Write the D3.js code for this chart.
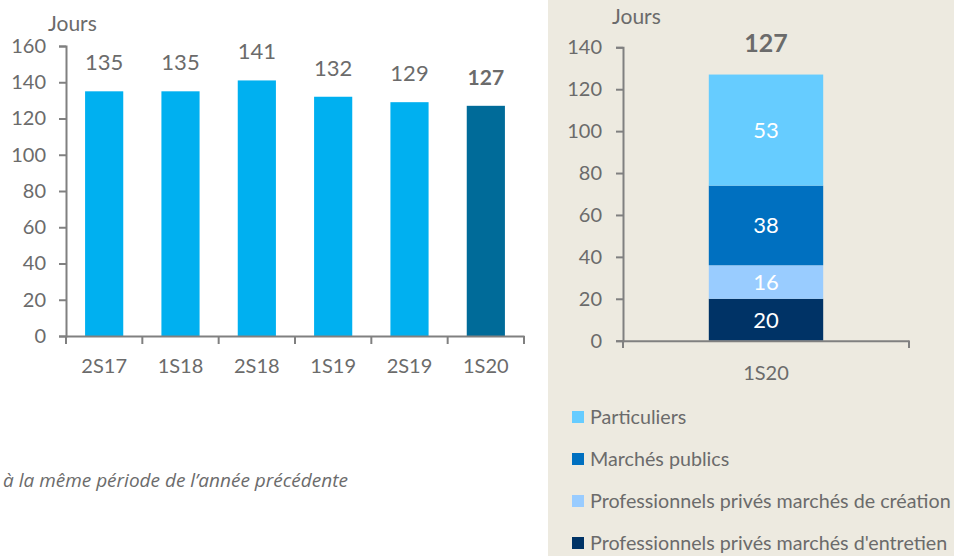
<!DOCTYPE html>
<html>
<head>
<meta charset="utf-8">
<script src="https://cdn.jsdelivr.net/npm/d3@7"></script>
<style>
  body { margin: 0; background: #fff; }
  svg { display: block; font-family: Lato, "Open Sans", sans-serif; }
</style>
</head>
<body>
<script>
var W = 954, H = 556;

// left chart data
var periods = ["2S17", "1S18", "2S18", "1S19", "2S19", "1S20"];
var delays = [135, 135, 141, 132, 129, 127];
var leftTicks = [0, 20, 40, 60, 80, 100, 120, 140, 160];

// right chart data (stacked, bottom to top)
var segments = ["Professionnels privés marchés d'entretien", "Professionnels privés marchés de création", "Marchés publics", "Particuliers"];
var segValues = [20, 16, 38, 53];
var segColors = ["#003366", "#99ccff", "#0070c0", "#66ccff"];
var rightCategory = ["1S20"];
var rightTicks = [0, 20, 40, 60, 80, 100, 120, 140];
var legendOrder = ["Particuliers", "Marchés publics", "Professionnels privés marchés de création", "Professionnels privés marchés d'entretien"];

var textColor = "#6b6b6b", axisColor = "#808080";

var svg = d3.select("body").append("svg")
    .attr("width", W)
    .attr("height", H);

// beige panel on the right
svg.append("rect")
    .attr("x", 548).attr("y", 0)
    .attr("width", W - 548).attr("height", H)
    .attr("fill", "#edeae0");

// ---- left chart ----
var x1 = d3.scaleBand().domain(periods).range([66, 524]).paddingInner(0.5).paddingOuter(0.25);
var y1 = d3.scaleLinear().domain([0, 160]).range([336, 46]);

var gl = svg.append("g");

gl.selectAll("rect.bar")
    .data(delays)
    .enter()
    .append("rect")
    .attr("class", "bar")
    .attr("x", function(d, i) { return x1(periods[i]); })
    .attr("width", x1.bandwidth())
    .attr("y", function(d) { return y1(d); })
    .attr("height", function(d) { return y1(0) - y1(d); })
    .attr("fill", function(d, i) { return i == periods.length - 1 ? "#006b99" : "#00b0f0"; });

gl.selectAll("text.val")
    .data(delays)
    .enter()
    .append("text")
    .attr("class", "val")
    .attr("x", function(d, i) { return x1(periods[i]) + x1.bandwidth() / 2; })
    .attr("y", function(d) { return y1(d) - 21; })
    .attr("text-anchor", "middle")
    .attr("font-size", function(d, i) { return i == periods.length - 1 ? 21 : 22; })
    .attr("font-weight", function(d, i) { return i == periods.length - 1 ? "bold" : "normal"; })
    .attr("fill", textColor)
    .text(function(d) { return d; });

// y axis
var yAxisL = gl.append("g").attr("transform", "translate(66,0)")
    .call(d3.axisLeft(y1).tickValues(leftTicks).tickSize(7).tickPadding(13));
// x axis
var xAxisL = gl.append("g").attr("transform", "translate(0,336)")
    .call(d3.axisBottom(x1).tickSize(0).tickPadding(23));
// category separators
gl.selectAll("line.sep")
    .data(d3.range(periods.length + 1))
    .enter()
    .append("line")
    .attr("class", "sep")
    .attr("x1", function(i) { return 66 + i * (524 - 66) / periods.length; })
    .attr("x2", function(i) { return 66 + i * (524 - 66) / periods.length; })
    .attr("y1", 336).attr("y2", 344)
    .attr("stroke", axisColor).attr("stroke-width", 2);

gl.append("text")
    .attr("x", 48).attr("y", 31)
    .attr("font-size", 21)
    .attr("fill", textColor)
    .text("Jours");

// ---- right chart ----
var x2 = d3.scaleBand().domain(rightCategory).range([623, 909]).paddingInner(0.6).paddingOuter(0.3);
var y2 = d3.scaleLinear().domain([0, 140]).range([340.7, 47.3]);

var stackData = [];
var acc = 0;
segValues.forEach(function(v, i) {
    stackData.push({ name: segments[i], y0: acc, y1: acc + v, v: v, color: segColors[i] });
    acc += v;
});

var gr = svg.append("g");
var bx = x2("1S20"), bw = x2.bandwidth();

gr.selectAll("rect.seg")
    .data(stackData)
    .enter()
    .append("rect")
    .attr("class", "seg")
    .attr("x", bx)
    .attr("width", bw)
    .attr("y", function(d) { return y2(d.y1); })
    .attr("height", function(d) { return y2(d.y0) - y2(d.y1); })
    .attr("fill", function(d) { return d.color; });

gr.selectAll("text.seglab")
    .data(stackData)
    .enter()
    .append("text")
    .attr("class", "seglab")
    .attr("x", bx + bw / 2)
    .attr("y", function(d) { return (y2(d.y0) + y2(d.y1)) / 2 + 8; })
    .attr("text-anchor", "middle")
    .attr("font-size", 22)
    .attr("fill", "#fff")
    .text(function(d) { return d.v; });

gr.append("text")
    .attr("x", bx + bw / 2)
    .attr("y", y2(acc) - 23)
    .attr("text-anchor", "middle")
    .attr("font-size", 25)
    .attr("font-weight", "bold")
    .attr("fill", textColor)
    .text(acc);

var yAxisR = gr.append("g").attr("transform", "translate(623,0)")
    .call(d3.axisLeft(y2).tickValues(rightTicks).tickSize(7).tickPadding(14));
var xAxisR = gr.append("g").attr("transform", "translate(0,340.7)")
    .call(d3.axisBottom(x2).tickSize(0).tickPadding(25));
gr.selectAll("line.sep")
    .data([623, 909])
    .enter()
    .append("line")
    .attr("class", "sep")
    .attr("x1", function(d) { return d; })
    .attr("x2", function(d) { return d; })
    .attr("y1", 340.7).attr("y2", 348)
    .attr("stroke", axisColor).attr("stroke-width", 2);

gr.append("text")
    .attr("x", 612).attr("y", 24)
    .attr("font-size", 21)
    .attr("fill", textColor)
    .text("Jours");

// style the axes
[yAxisL, xAxisL, yAxisR, xAxisR].forEach(function(a) {
    a.select(".domain").attr("stroke", axisColor).attr("stroke-width", 2);
    a.selectAll(".tick line").attr("stroke", axisColor).attr("stroke-width", 2);
    a.selectAll(".tick text").attr("fill", textColor).attr("font-size", 20).attr("font-family", "Lato, sans-serif");
});

// legend
var colorOf = {};
segments.forEach(function(s, i) { colorOf[s] = segColors[i]; });
var leg = svg.append("g").selectAll("g")
    .data(legendOrder)
    .enter()
    .append("g")
    .attr("transform", function(d, i) { return "translate(572," + (411 + i * 42) + ")"; });
leg.append("rect")
    .attr("width", 12).attr("height", 12)
    .attr("fill", function(d) { return colorOf[d]; });
leg.append("text")
    .attr("x", 18).attr("y", 13)
    .attr("font-size", 19.7)
    .attr("fill", textColor)
    .text(function(d) { return d; });

// footnote (cut at left in the original)
svg.append("text")
    .attr("x", 3).attr("y", 487)
    .attr("font-size", 19)
    .attr("font-family", "'Open Sans', sans-serif")
    .attr("font-style", "italic")
    .attr("fill", textColor)
    .text("à la même période de l’année précédente");
</script>
</body>
</html>
